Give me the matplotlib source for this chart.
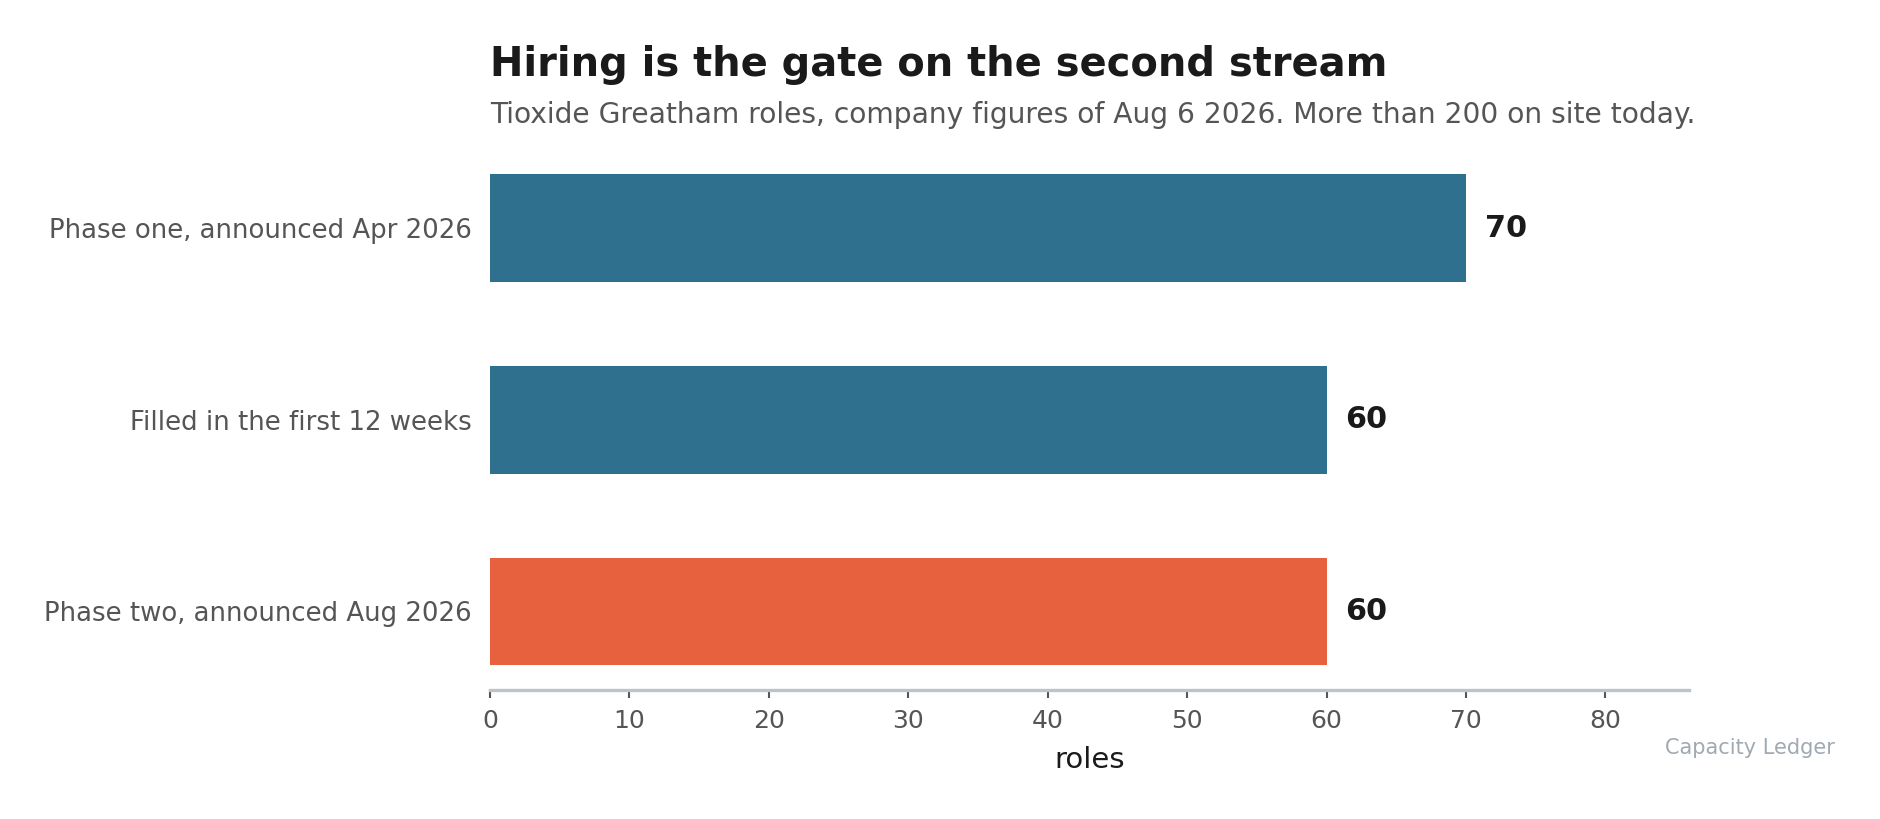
import matplotlib
matplotlib.use("Agg")
import matplotlib.pyplot as plt

categories = ["Phase one, announced Apr 2026", "Filled in the first 12 weeks", "Phase two, announced Aug 2026"]
values = [70, 60, 60]
colors = ["#2f708f", "#2f708f", "#e8613e"]
xticks = [0, 10, 20, 30, 40, 50, 60, 70, 80]

title = "Hiring is the gate on the second stream"
subtitle = "Tioxide Greatham roles, company figures of Aug 6 2026. More than 200 on site today."
source = "Capacity Ledger"

plt.rcParams['font.family'] = ['DejaVu Sans']
fig = plt.figure(figsize=(12.54, 5.46), dpi=150)
ax = fig.add_axes([0.2605, 0.1575, 0.6375, 0.6597])

y = list(range(len(categories)))
ax.barh(y, values, height=0.5625, color=colors)
ax.set_ylim(2.41, -0.41)
ax.set_xlim(0, 86)
ax.set_yticks(y)
ax.set_yticklabels(categories, fontsize=12.5, color="#555555")
ax.set_xticks(xticks)
ax.set_xticklabels([str(t) for t in xticks], fontsize=12, color="#555555")
ax.tick_params(axis='y', length=0, pad=8.8)
ax.tick_params(axis='x', length=3.84, width=1, color="#555555", pad=5.3)
for s in ["top", "right", "left"]:
    ax.spines[s].set_visible(False)
ax.spines["bottom"].set_color("#bcc3ca")
ax.spines["bottom"].set_linewidth(1.6)
ax.set_xlabel("roles", fontsize=14, color="#1a1a1a", labelpad=6)

for yi, v in zip(y, values):
    ax.annotate(str(v), xy=(v, yi), xytext=(9, 0), textcoords="offset points",
                va="center", ha="left", fontsize=14.5, fontweight="bold", color="#1a1a1a")

fig.text(490/1881, 1 - 76/819, title, fontsize=19.2, fontweight="bold", color="#1a1a1a", va="baseline", ha="left")
fig.text(490/1881, 1 - 123/819, subtitle, fontsize=13.5, color="#555555", va="baseline", ha="left")
fig.text(1835/1881, 1 - 754/819, source, fontsize=10, color="#a0aab2", va="baseline", ha="right")

fig.savefig("out.png", dpi=150)
